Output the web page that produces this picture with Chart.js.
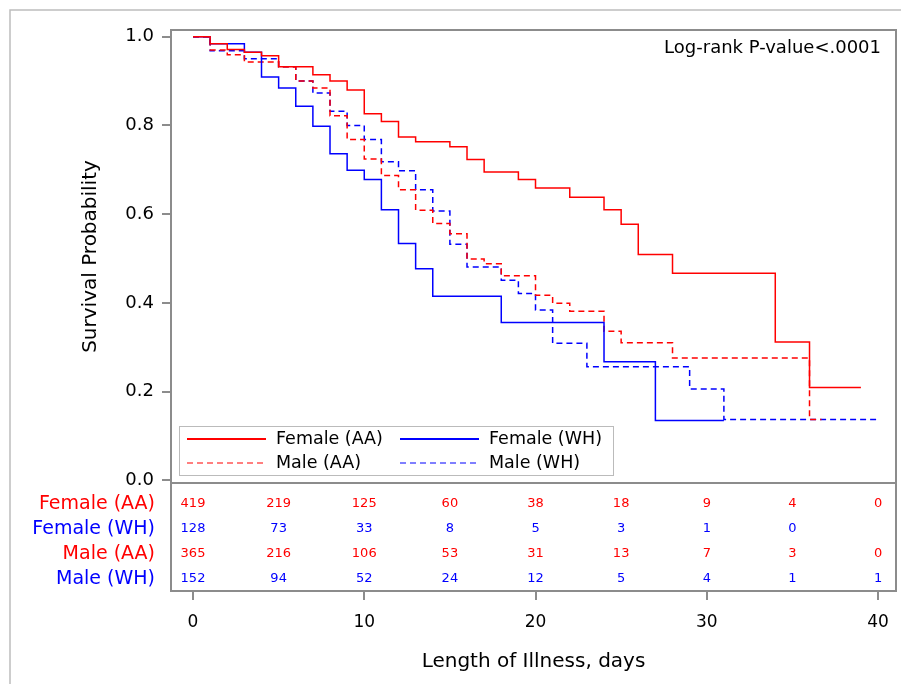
<!DOCTYPE html>
<html>
<head>
<meta charset="utf-8">
<title>Survival by sex and group</title>
<script src="https://cdn.jsdelivr.net/npm/chart.js@4.4.0/dist/chart.umd.min.js"></script>
<style>
  body { margin: 0; background: #fff; }
  #wrap { width: 901px; height: 684px; }
</style>
</head>
<body>
<div id="wrap"><canvas id="km" width="901" height="684"></canvas></div>
<script>
// Kaplan-Meier steps: day the step starts, survival from then on
const femaleAA_t = [0, 1, 2, 3, 4, 5, 7, 8, 9, 10, 11, 12, 13, 15, 16, 17, 19, 20, 22, 24, 25, 26, 28, 34, 36, 39];
const femaleAA_s = [1.0, 0.984, 0.971, 0.965, 0.957, 0.932, 0.914, 0.900, 0.880, 0.826, 0.809, 0.774, 0.763, 0.752, 0.723, 0.695, 0.678, 0.659, 0.638, 0.610, 0.577, 0.509, 0.467, 0.312, 0.209, 0.209];

const femaleWH_t = [0, 1, 3, 4, 5, 6, 7, 8, 9, 10, 11, 12, 13, 14, 18, 24, 27, 31];
const femaleWH_s = [1.0, 0.984, 0.965, 0.909, 0.884, 0.843, 0.798, 0.736, 0.699, 0.678, 0.610, 0.534, 0.477, 0.415, 0.356, 0.267, 0.135, 0.135];

const maleAA_t = [0, 1, 2, 3, 5, 6, 7, 8, 9, 10, 11, 12, 13, 14, 15, 16, 17, 18, 20, 21, 22, 24, 25, 28, 36, 36.7];
const maleAA_s = [1.0, 0.970, 0.959, 0.943, 0.932, 0.900, 0.884, 0.822, 0.768, 0.724, 0.687, 0.655, 0.609, 0.579, 0.556, 0.499, 0.488, 0.461, 0.417, 0.399, 0.381, 0.336, 0.310, 0.276, 0.137, 0.137];

const maleWH_t = [0, 1, 3, 5, 6, 7, 8, 9, 10, 11, 12, 13, 14, 15, 16, 18, 19, 20, 21, 23, 29, 31, 40];
const maleWH_s = [1.0, 0.968, 0.950, 0.932, 0.900, 0.873, 0.832, 0.800, 0.768, 0.718, 0.698, 0.655, 0.607, 0.532, 0.481, 0.451, 0.421, 0.384, 0.309, 0.256, 0.206, 0.137, 0.137];

// numbers at risk
const riskTimes = [0, 5, 10, 15, 20, 25, 30, 35, 40];
const riskFemaleAA = [419, 219, 125, 60, 38, 18, 9, 4, 0];
const riskFemaleWH = [128, 73, 33, 8, 5, 3, 1, 0, null];
const riskMaleAA = [365, 216, 106, 53, 31, 13, 7, 3, 0];
const riskMaleWH = [152, 94, 52, 24, 12, 5, 4, 1, 1];

const xTicks = [0, 10, 20, 30, 40];
const yTicks = [0, 0.2, 0.4, 0.6, 0.8, 1.0];

const RED = "#ff0000";
const BLUE = "#0000ff";
const FONT = "'DejaVu Sans', sans-serif";
const FRAME = "#8c8c8c";

function pts(t, s) {
  return t.map((x, i) => ({ x: x, y: s[i] }));
}

const groups = [
  { label: "Female (AA)", t: femaleAA_t, s: femaleAA_s, color: RED, dash: [], risk: riskFemaleAA },
  { label: "Female (WH)", t: femaleWH_t, s: femaleWH_s, color: BLUE, dash: [], risk: riskFemaleWH },
  { label: "Male (AA)", t: maleAA_t, s: maleAA_s, color: RED, dash: [6, 4], risk: riskMaleAA },
  { label: "Male (WH)", t: maleWH_t, s: maleWH_s, color: BLUE, dash: [6, 4], risk: riskMaleWH }
];

const extras = {
  id: "extras",
  afterDraw(chart) {
    const ctx = chart.ctx;
    const a = chart.chartArea;
    const xs = chart.scales.x;
    const tableBottom = 591;
    ctx.save();

    // outer frame
    ctx.strokeStyle = "#bdbdbd";
    ctx.lineWidth = 1.5;
    ctx.strokeRect(10, 10, 1000, 1000);

    // plot frame and risk table box
    ctx.strokeStyle = FRAME;
    ctx.lineWidth = 2;
    ctx.strokeRect(a.left, a.top, a.right - a.left, a.bottom - a.top);
    ctx.strokeRect(a.left, a.bottom, a.right - a.left, tableBottom - a.bottom);

    // x tick marks under the table
    xTicks.forEach(v => {
      const px = Math.round(xs.getPixelForValue(v));
      ctx.beginPath();
      ctx.moveTo(px, tableBottom);
      ctx.lineTo(px, tableBottom + 9);
      ctx.stroke();
    });

    // risk table
    const rowY = [504, 529, 554, 579];
    ctx.textBaseline = "middle";
    groups.forEach((g, r) => {
      ctx.fillStyle = g.color;
      ctx.font = "19px " + FONT;
      ctx.textAlign = "right";
      ctx.fillText(g.label, 155, rowY[r]);
      ctx.font = "13px " + FONT;
      ctx.textAlign = "center";
      g.risk.forEach((n, j) => {
        if (n === null) return;
        ctx.fillText(String(n), xs.getPixelForValue(riskTimes[j]), rowY[r]);
      });
    });

    // legend
    ctx.strokeStyle = "#bbbbbb";
    ctx.lineWidth = 1;
    ctx.strokeRect(179.5, 426.5, 434, 49);
    const cols = [187, 400];
    const rows = [439, 463];
    ctx.font = "17.5px " + FONT;
    ctx.textAlign = "left";
    ctx.fillStyle = "#000";
    [0, 1, 2, 3].forEach(i => {
      const g = groups[i];
      const cx = cols[i % 2];
      const cy = rows[Math.floor(i / 2)];
      ctx.strokeStyle = g.color;
      ctx.lineWidth = g.dash.length ? 1.2 : 2;
      ctx.setLineDash(g.dash);
      ctx.beginPath();
      ctx.moveTo(cx, cy);
      ctx.lineTo(cx + 79, cy);
      ctx.stroke();
      ctx.setLineDash([]);
      ctx.fillText(g.label, cx + 89, cy);
    });

    // test annotation
    ctx.textAlign = "right";
    ctx.font = "18px " + FONT;
    ctx.fillText("Log-rank P-value<.0001", 881, 48);
    ctx.restore();
  }
};

new Chart(document.getElementById("km"), {
  type: "line",
  data: {
    datasets: groups.map(g => ({
      label: g.label,
      data: pts(g.t, g.s),
      borderColor: g.color,
      borderDash: g.dash,
      borderWidth: 1.5,
      pointRadius: 0,
      stepped: "before",
      fill: false
    }))
  },
  options: {
    responsive: false,
    animation: false,
    devicePixelRatio: 1,
    layout: { padding: { left: 0, top: 30, right: 5, bottom: 0 } },
    plugins: { legend: { display: false }, tooltip: { enabled: false } },
    scales: {
      x: {
        type: "linear",
        min: -1.285,
        max: 41.05,
        afterBuildTicks: s => { s.ticks = xTicks.map(v => ({ value: v })); },
        afterFit: s => { s.height = 201; s.paddingLeft = 0; s.paddingRight = 0; },
        grid: { display: false },
        border: { display: false },
        ticks: { padding: 121, maxRotation: 0, color: "#000", font: { family: FONT, size: 17 } },
        title: {
          display: true,
          text: "Length of Illness, days",
          color: "#000",
          font: { family: FONT, size: 20 },
          padding: { top: 0, bottom: 10 }
        }
      },
      y: {
        min: -0.006,
        max: 1.015,
        afterBuildTicks: s => { s.ticks = yTicks.map(v => ({ value: v })); },
        afterFit: s => { s.width = 171; },
        grid: { drawOnChartArea: false, drawTicks: true, tickLength: 9, color: FRAME, lineWidth: 2 },
        border: { display: false },
        ticks: {
          padding: 8,
          color: "#000",
          font: { family: FONT, size: 18 },
          callback: v => v.toFixed(1)
        },
        title: {
          display: true,
          text: "Survival Probability",
          color: "#000",
          font: { family: FONT, size: 20 },
          padding: { top: 79, bottom: 0 }
        }
      }
    }
  },
  plugins: [extras]
});
</script>
</body>
</html>
